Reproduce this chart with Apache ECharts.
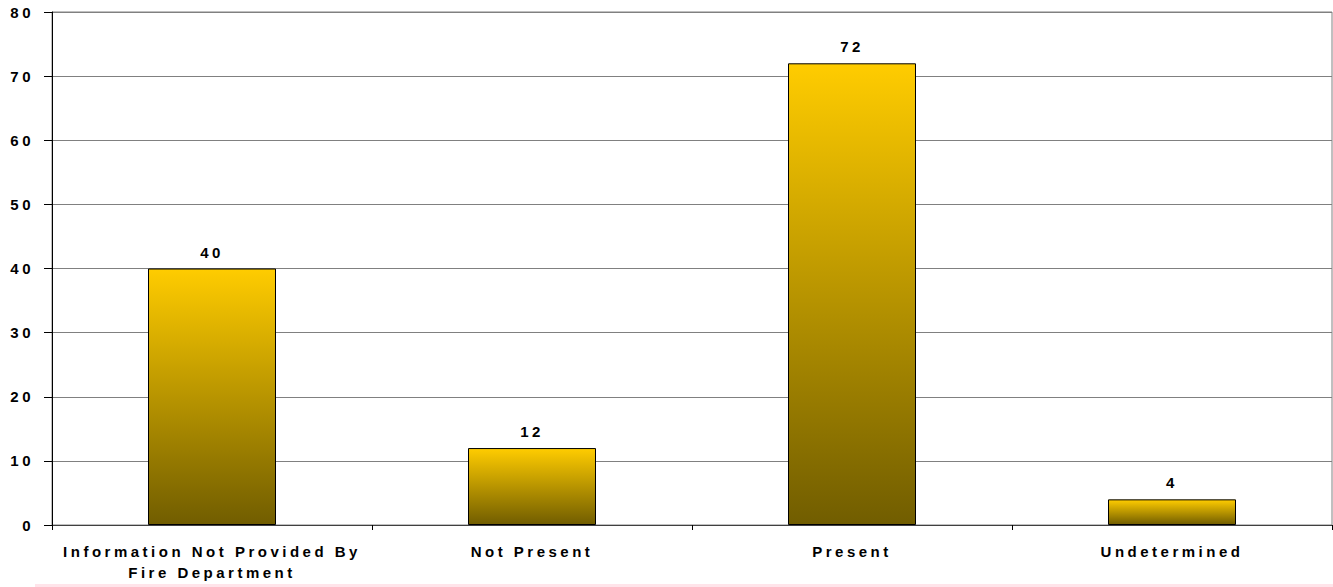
<!DOCTYPE html>
<html><head><meta charset="utf-8">
<script src="https://cdn.jsdelivr.net/npm/echarts@6/dist/echarts.min.js"></script>
<style>
html,body{margin:0;padding:0;background:#fff;}
#c{width:1333px;height:587px;}
#c svg text{letter-spacing:3.5px;}
</style></head><body>
<div id="c"></div>
<script>
const categories = ['Information Not Provided By\nFire Department', 'Not Present', 'Present', 'Undetermined'];
const values = [40, 12, 72, 4];
const yTicks = { min: 0, max: 80, interval: 10 };

const chart = echarts.init(document.getElementById('c'), null, { renderer: 'svg' });
chart.setOption({
  animation: false,
  grid: { left: 52, right: 1, top: 12, bottom: 62, show: true, borderColor: '#808080', borderWidth: 1, backgroundColor: 'transparent' },
  xAxis: {
    type: 'category', data: categories,
    axisLine: { lineStyle: { color: '#404040', width: 1 } },
    axisTick: { show: true, length: 5, lineStyle: { color: '#000' } },
    axisLabel: { color: '#000', fontFamily: 'Liberation Sans, Arial', fontWeight: 'bold', fontSize: 15, lineHeight: 21, margin: 16, interval: 0 }
  },
  yAxis: {
    type: 'value', min: yTicks.min, max: yTicks.max, interval: yTicks.interval,
    axisLine: { show: true, lineStyle: { color: '#000', width: 1 } },
    axisTick: { show: true, length: 8, lineStyle: { color: '#000' } },
    splitLine: { lineStyle: { color: '#808080', width: 1 } },
    axisLabel: { color: '#000', fontFamily: 'Liberation Sans, Arial', fontWeight: 'bold', fontSize: 15, margin: 18 }
  },
  series: [{
    type: 'bar', data: values, barCategoryGap: '60%',
    itemStyle: {
      borderColor: '#000', borderWidth: 1,
      color: new echarts.graphic.LinearGradient(0, 0, 0, 1, [
        { offset: 0, color: '#FFCC00' },
        { offset: 1, color: '#715D00' }
      ])
    },
    label: { show: true, position: 'top', distance: 9, color: '#000', fontFamily: 'Liberation Sans, Arial', fontWeight: 'bold', fontSize: 15 }
  }],
  graphic: [{ type: 'rect', left: 35, top: 584, shape: { width: 1298, height: 3 }, style: { fill: '#ffe4ea' }, silent: true }]
});
</script>
</body></html>
